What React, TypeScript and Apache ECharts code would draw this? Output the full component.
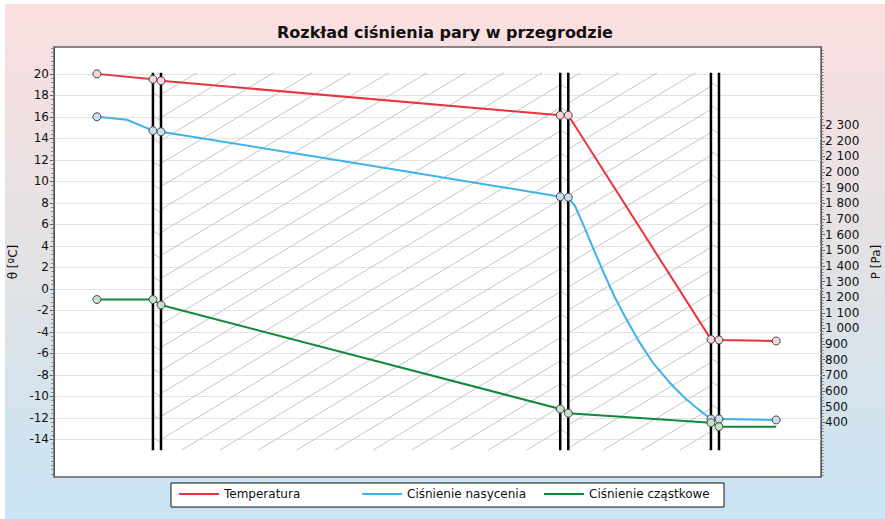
import React, { useEffect, useRef } from 'react';
import * as echarts from 'echarts';

const chartTitle = 'Rozkład ciśnienia pary w przegrodzie';
const seriesNames = ['Temperatura', 'Ciśnienie nasycenia', 'Ciśnienie cząstkowe'];
const lineColors = ['#e8343f', '#3fb2ea', '#10893a'];
const markerFills = ['#fad3d5', '#c9def0', '#c6e2cc'];

// layer boundaries (x) and layers [x0, x1, hatch direction]
const wallX = [12.9, 13.95, 66.0, 67.05, 85.65, 86.7];
const layers = [
  [12.9, 13.95, -1],
  [13.95, 66.0, 1],
  [66.0, 67.05, -1],
  [67.05, 85.65, 1],
  [85.65, 86.7, -1],
];
const wallTop = 20.1;
const wallBottom = -15.0;

// temperature [°C]
const tempX = [5.6, 12.9, 13.95, 66.0, 67.05, 85.65, 86.7, 94.15];
const tempY = [20.0, 19.5, 19.35, 16.15, 16.15, -4.7, -4.75, -4.85];
const tempMark = [1, 1, 1, 1, 1, 1, 1, 1];

// saturation pressure [Pa]
const satX = [5.6, 9.5, 12.9, 13.95, 40.0, 66.0, 67.05, 67.93, 69.2, 70.5, 71.8, 73.1, 74.4, 76.3, 78.2, 80.2, 82.1, 84.1, 85.65, 86.7, 94.15];
const satY = [2354, 2335, 2265, 2258, 2052, 1843, 1839, 1783, 1642, 1489, 1342, 1201, 1080, 914, 773, 658, 562, 479, 421, 421, 415];
const satMark = [1, 0, 1, 1, 0, 1, 1, 0, 0, 0, 0, 0, 0, 0, 0, 0, 0, 0, 1, 1, 1];

// partial pressure [Pa]
const partX = [5.6, 12.9, 13.95, 66.0, 67.05, 85.65, 86.7, 94.15];
const partY = [1185, 1185, 1150, 485, 458, 397, 372, 372];
const partMark = [1, 1, 1, 1, 1, 1, 1, 0];

// axis labels
const leftLabels = [-14, -12, -10, -8, -6, -4, -2, 0, 2, 4, 6, 8, 10, 12, 14, 16, 18, 20];
const rightLabels = [400, 500, 600, 700, 800, 900, 1000, 1100, 1200, 1300, 1400, 1500, 1600, 1700, 1800, 1900, 2000, 2100, 2200, 2300];
const leftMin = -17.5;
const leftMax = 22.5;
const rightMin = 50;
const rightMax = 2800;
const leftMinorStep = 0.4;
const rightMinorStep = 20;

const FONT = 'DejaVu Sans';

function range(a: number, b: number, step: number) {
  const out: number[] = [];
  const n = Math.floor((b - a) / step + 1e-9);
  for (let i = 0; i <= n; i++) out.push(Math.round((a + i * step) * 1000) / 1000);
  return out;
}

function buildData(xs: number[], ys: number[], marks: number[]) {
  return xs.map((x, i) => (marks[i] ? [x, ys[i]] : { value: [x, ys[i]], symbol: 'none' }));
}

function fmtThousands(v: number) {
  return String(v).replace(/\B(?=(\d{3})+(?!\d))/g, ' ');
}

export default function App() {
  const ref = useRef<HTMLDivElement>(null);

  useEffect(() => {
    document.body.style.margin = '0';
    if (!ref.current) return;
    const chart = echarts.init(ref.current, null, { renderer: 'svg' });

    const lineSeries = [
      { name: seriesNames[0], data: buildData(tempX, tempY, tempMark), yAxisIndex: 0 },
      { name: seriesNames[1], data: buildData(satX, satY, satMark), yAxisIndex: 1 },
      { name: seriesNames[2], data: buildData(partX, partY, partMark), yAxisIndex: 1 },
    ].map((s, i) => ({
      type: 'line',
      name: s.name,
      data: s.data,
      yAxisIndex: s.yAxisIndex,
      symbol: 'circle',
      symbolSize: 8,
      showAllSymbol: true,
      z: 5,
      lineStyle: { color: lineColors[i], width: 2 },
      itemStyle: { color: markerFills[i], borderColor: '#4a4a4a', borderWidth: 1 },
    }));

    const legendLefts = [174, 357, 539];

    const option: any = {
      animation: false,
      backgroundColor: {
        type: 'linear', x: 0, y: 0, x2: 0, y2: 1,
        colorStops: [
          { offset: 0, color: '#fcdfe0' },
          { offset: 0.5, color: '#e2e2e4' },
          { offset: 1, color: '#c9e4f4' },
        ],
      },
      title: {
        text: chartTitle,
        left: 'center',
        top: 15,
        textStyle: { fontFamily: FONT, fontSize: 16, fontWeight: 'bold', color: '#111' },
      },
      legend: seriesNames.map((n, i) => ({
        left: legendLefts[i],
        top: 484,
        itemWidth: 40,
        itemHeight: 2,
        padding: 0,
        textStyle: { fontFamily: FONT, fontSize: 12, color: '#111' },
        data: [{ name: n, icon: 'rect', itemStyle: { color: lineColors[i], borderWidth: 0 } }],
      })),
      graphic: [
        {
          type: 'rect',
          shape: { x: 166, y: 479, width: 553, height: 24 },
          style: { fill: '#fff', stroke: '#111', lineWidth: 1 },
          z: -1,
        },
      ],
      grid: {
        left: 49, right: 64, top: 43, bottom: 42,
        outerBoundsMode: 'none',
        containLabel: false,
        show: true,
        backgroundColor: '#fff',
        borderColor: '#606060',
        borderWidth: 1.5,
      },
      xAxis: {
        type: 'value', min: 0, max: 100, show: false,
      },
      yAxis: [
        {
          type: 'value', position: 'left', min: leftMin, max: leftMax,
          name: 'θ [ºC]', nameLocation: 'middle', nameGap: 34,
          nameTextStyle: { fontFamily: FONT, fontSize: 12, color: '#111' },
          axisLine: { show: true, lineStyle: { color: '#555', width: 1 } },
          axisTick: { show: true, length: 4, customValues: leftLabels, lineStyle: { color: '#555' } },
          axisLabel: { customValues: leftLabels, fontFamily: FONT, fontSize: 12, color: '#111', margin: 5 },
          splitLine: { show: true, lineStyle: { color: '#e3e3e3', width: 1 } },
        },
        {
          type: 'value', position: 'right', min: rightMin, max: rightMax,
          name: 'P [Pa]', nameLocation: 'middle', nameGap: 43, nameRotate: 90,
          nameTextStyle: { fontFamily: FONT, fontSize: 12, color: '#111' },
          axisLine: { show: true, lineStyle: { color: '#555', width: 1 } },
          axisTick: { show: true, length: 4, customValues: rightLabels, lineStyle: { color: '#555' } },
          axisLabel: {
            customValues: rightLabels, fontFamily: FONT, fontSize: 12, color: '#111', margin: 4,
            formatter: (v: number) => fmtThousands(v),
          },
          splitLine: { show: false },
        },
        {
          type: 'value', position: 'left', min: leftMin, max: leftMax,
          axisLine: { show: false },
          axisTick: { show: true, length: 2.5, customValues: range(-17.2, 22.4, leftMinorStep), lineStyle: { color: '#777' } },
          axisLabel: { show: false },
          splitLine: { show: false },
        },
        {
          type: 'value', position: 'right', min: rightMin, max: rightMax,
          axisLine: { show: false },
          axisTick: { show: true, length: 2.5, customValues: range(60, 2780, rightMinorStep), lineStyle: { color: '#777' } },
          axisLabel: { show: false },
          splitLine: { show: false },
        },
      ],
      series: [
        {
          type: 'custom',
          name: 'hatch',
          yAxisIndex: 0,
          z: 1,
          silent: true,
          data: layers,
          renderItem: (params: any, api: any) => {
            const x0 = api.value(0);
            const x1 = api.value(1);
            const dir = api.value(2);
            const p0 = api.coord([x0, wallTop]);
            const p1 = api.coord([x1, wallBottom]);
            const L = p0[0], R = p1[0], T = p0[1], B = p1[1];
            const k = 0.6;
            const h = 23;
            const children: any[] = [];
            const style = { stroke: '#c6c6c6', lineWidth: 1 };
            if (dir > 0) {
              const cMin = T + k * L;
              const cMax = B + k * R;
              for (let c = Math.ceil(cMin / h) * h; c <= cMax; c += h) {
                const xa = Math.max(L, (c - B) / k);
                const xb = Math.min(R, (c - T) / k);
                if (xb > xa) children.push({ type: 'line', shape: { x1: xa, y1: c - k * xa, x2: xb, y2: c - k * xb }, style });
              }
            } else {
              const cMin = T - k * R;
              const cMax = B - k * L;
              for (let c = Math.ceil(cMin / h) * h; c <= cMax; c += h) {
                const xa = Math.max(L, (T - c) / k);
                const xb = Math.min(R, (B - c) / k);
                if (xb > xa) children.push({ type: 'line', shape: { x1: xa, y1: c + k * xa, x2: xb, y2: c + k * xb }, style });
              }
            }
            return { type: 'group', children };
          },
        },
        {
          type: 'custom',
          name: 'walls',
          yAxisIndex: 0,
          z: 2,
          silent: true,
          data: wallX.map((x) => [x]),
          renderItem: (params: any, api: any) => {
            const x = api.value(0);
            const a = api.coord([x, wallTop]);
            const b = api.coord([x, wallBottom]);
            return {
              type: 'line',
              shape: { x1: a[0], y1: a[1], x2: b[0], y2: b[1] },
              style: { stroke: '#000', lineWidth: 2.5 },
            };
          },
        },
        ...lineSeries,
      ],
    };

    chart.setOption(option);
    return () => chart.dispose();
  }, []);

  return (
    <div style={{ width: 885, height: 519, background: '#fff', position: 'relative' }}>
      <div ref={ref} style={{ position: 'absolute', left: 5, top: 4, width: 880, height: 515 }} />
    </div>
  );
}
